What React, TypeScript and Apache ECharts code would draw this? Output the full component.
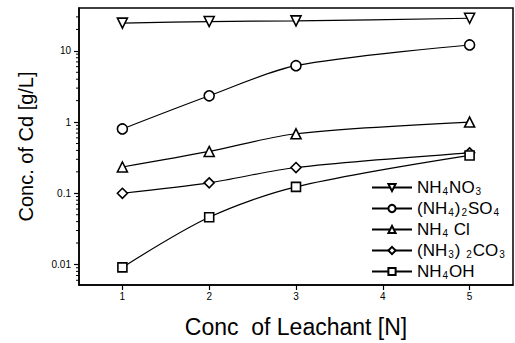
import React, { useEffect, useRef } from "react";
import * as echarts from "echarts";

const xValues = [1, 2, 3, 5];
const nh4no3 = [24.5, 25.8, 26.4, 28.7];
const nh4so4 = [0.8, 2.34, 6.2, 12.1];
const nh4cl = [0.234, 0.387, 0.685, 1.0];
const nh3co3 = [0.1, 0.14, 0.23, 0.37];
const nh4oh = [0.0091, 0.046, 0.123, 0.34];

const seriesNames = ["NH4NO3", "(NH4)2SO4", "NH4 Cl", "(NH3)2CO3", "NH4OH"];
const legendRich: Record<string, string> = {
  NH4NO3: "{n|NH}{s|4}{n|NO}{s|3}",
  "(NH4)2SO4": "{n|(NH}{s|4}{n|)}{s|2}{n|SO}{s|4}",
  "NH4 Cl": "{n|NH}{s|4}{n| Cl}",
  "(NH3)2CO3": "{n|(NH}{s|3}{n|) }{s|2}{n|CO}{s|3}",
  NH4OH: "{n|NH}{s|4}{n|OH}",
};
const symbols = ["triangle", "circle", "triangle", "diamond", "rect"];
const rotations = [180, 0, 0, 0, 0];
const sizes = [10, 10, 10, 10, 9];
const allData = [nh4no3, nh4so4, nh4cl, nh3co3, nh4oh];

const FONT = "Liberation Sans";
const Y_MIN = 0.00515;
const Y_MAX = 40;

export default function App() {
  const ref = useRef<HTMLDivElement>(null);
  useEffect(() => {
    if (!ref.current) return;
    const chart = echarts.init(ref.current, undefined, { renderer: "svg" });
    const series = seriesNames.map((name, i) => ({
      name,
      type: "line",
      data: xValues.map((x, j) => [x, allData[i][j]]),
      smooth: 0.3,
      symbol: symbols[i],
      symbolRotate: rotations[i],
      symbolSize: sizes[i],
      showAllSymbol: true,
      lineStyle: { color: "#000", width: 1.2 },
      itemStyle: { color: "#fff", borderColor: "#000", borderWidth: 1.6 },
      z: 3,
    }));
    chart.setOption({
      animation: false,
      backgroundColor: "#fff",
      grid: {
        left: 79,
        right: 2,
        top: 8,
        bottom: 58,
        containLabel: false,
        outerBoundsMode: "none",
        show: true,
        borderColor: "#000",
        borderWidth: 1.5,
        backgroundColor: "transparent",
      },
      legend: {
        orient: "vertical",
        left: 366,
        top: 174,
        itemWidth: 40,
        itemHeight: 9,
        itemGap: 4,
        data: seriesNames,
        formatter: (name: string) => legendRich[name],
        textStyle: {
          fontFamily: FONT,
          color: "#000",
          rich: {
            n: { fontFamily: FONT, fontSize: 17, color: "#000", lineHeight: 17 },
            s: {
              fontFamily: FONT,
              fontSize: 10,
              color: "#000",
              lineHeight: 10,
              verticalAlign: "bottom",
              padding: [4, 1, 0, 1],
            },
          },
        },
      },
      xAxis: {
        type: "value",
        min: 0.5,
        max: 5.5,
        name: "Conc  of Leachant [N]",
        nameLocation: "middle",
        nameGap: 30,
        nameTextStyle: { fontFamily: FONT, fontSize: 23, color: "#000" },
        axisLine: { show: true, lineStyle: { color: "#000", width: 1.5 } },
        axisTick: { show: true, length: 5, lineStyle: { color: "#000", width: 1.2 } },
        axisLabel: {
          fontFamily: FONT,
          fontSize: 10,
          color: "#000",
          margin: 6,
          showMinLabel: false,
          showMaxLabel: false,
          formatter: (v: number) => (Math.abs(v - Math.round(v)) < 1e-6 ? String(Math.round(v)) : ""),
        },
        splitLine: { show: false },
      },
      yAxis: {
        type: "log",
        logBase: 10,
        min: Y_MIN,
        max: Y_MAX,
        name: "Conc. of Cd [g/L]",
        nameLocation: "middle",
        nameGap: 43,
        nameTextStyle: { fontFamily: FONT, fontSize: 20, color: "#000" },
        axisLine: { show: true, lineStyle: { color: "#000", width: 1.5 } },
        axisTick: { show: true, length: 5, lineStyle: { color: "#000", width: 1.2 } },
        axisLabel: {
          fontFamily: FONT,
          fontSize: 10,
          color: "#000",
          margin: 8,
          showMinLabel: false,
          showMaxLabel: false,
          formatter: (v: number) => {
            const l = Math.log10(v);
            if (Math.abs(l - Math.round(l)) > 1e-6) return "";
            const p = Math.round(l);
            return p >= 0 ? String(Math.pow(10, p)) : "0." + "0".repeat(-p - 1) + "1";
          },
        },
        splitLine: { show: false },
      },
      series,
    });

    // minor log ticks computed from the axis scale
    const xLeft = chart.convertToPixel({ xAxisIndex: 0 }, 0.5) as number;
    const minor: any[] = [];
    for (let d = -3; d <= 1; d++) {
      for (let k = 2; k <= 9; k++) {
        const v = k * Math.pow(10, d);
        if (v <= Y_MIN || v >= Y_MAX) continue;
        const y = chart.convertToPixel({ yAxisIndex: 0 }, v) as number;
        minor.push({
          type: "line",
          shape: { x1: xLeft - 3, y1: y, x2: xLeft, y2: y },
          style: { stroke: "#000", lineWidth: 1 },
          silent: true,
        });
      }
    }
    chart.setOption({ graphic: minor });

    return () => chart.dispose();
  }, []);
  return (
    <div
      ref={ref}
      style={{ position: "fixed", left: 0, top: 0, width: 515, height: 343 }}
    />
  );
}
